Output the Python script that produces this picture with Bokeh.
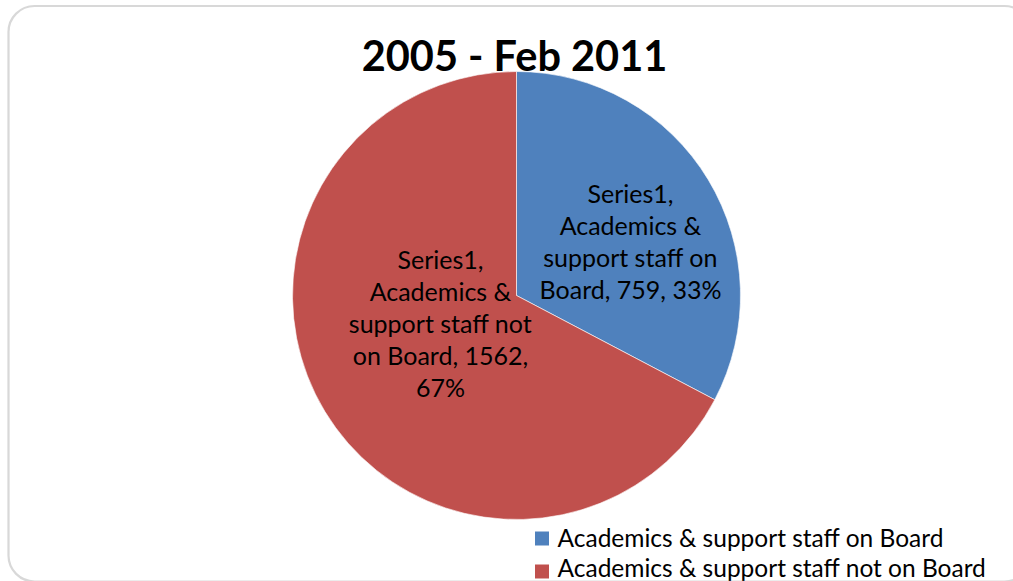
import math
import textwrap
from bokeh.plotting import figure
from bokeh.models import Range1d, ColumnDataSource, BoxAnnotation
from bokeh.core.properties import value
from bokeh.embed import file_html
from bokeh.resources import INLINE

# ---- data ----
title = "2005 - Feb 2011"
series_name = "Series1"
categories = ["Academics & support staff on Board", "Academics & support staff not on Board"]
values = [759, 1562]
colors = ["#4F81BD", "#C0504D"]

FONT = "Lato"

# ---- layout (screen px) ----
W, H = 1013, 581
X0, Y0 = 0, 0


def sy(y):
    return (Y0 + H) - y  # screen y -> data y


p = figure(width=W, height=H, output_backend="svg", toolbar_location=None,
           x_range=Range1d(X0, X0 + W), y_range=Range1d(0, H),
           min_border=0, outline_line_color=None)
p.axis.visible = False
p.grid.visible = False
p.background_fill_color = "white"
p.border_fill_color = "white"

# rounded chart border
p.add_layout(BoxAnnotation(left=8, right=1030, top=sy(5.5), bottom=sy(581),
                           border_radius=26, fill_alpha=0,
                           line_color="#7F7F7F", line_width=2.2))

# pie
total = sum(values)
fracs = [v / total for v in values]
starts, ends = [], []
a = math.pi / 2
for f in fracs:
    starts.append(a)
    a -= 2 * math.pi * f
    ends.append(a)
src = ColumnDataSource(dict(start=starts, end=ends, color=colors))
cx, cy, r = 516, 295, 224
p.wedge(x=cx, y=sy(cy), radius=r, radius_units="screen",
        start_angle="start", end_angle="end", direction="clock",
        fill_color="color", line_color="white", line_width=1, line_alpha=0.6,
        source=src)

# data labels
label_pos = [(630, 192), (440, 258)]  # center x, first baseline
lx, ly, lt = [], [], []
for i, (cat, v, f) in enumerate(zip(categories, values, fracs)):
    txt = f"{series_name}, {cat}, {v}, {round(f * 100)}%"
    lines = textwrap.wrap(txt, width=17)
    for j, line in enumerate(lines):
        lx.append(label_pos[i][0])
        ly.append(sy(label_pos[i][1] + 32 * j))
        lt.append(line)
p.text(x=lx, y=ly, text=lt, text_font=value(FONT), text_font_size="25px",
       text_color="black", text_align="center", text_baseline="alphabetic")

# title
p.text(x=[514], y=[sy(54)], text=[title], text_font=value(FONT),
       text_font_size="41.5px", text_font_style="bold", text_color="black",
       text_align="center", text_baseline="alphabetic")

# legend
leg_y = [538, 571]
p.rect(x=[541.5] * 2, y=[sy(v) for v in leg_y], width=14, height=14,
       width_units="screen", height_units="screen", fill_color=colors,
       line_color=None)
p.text(x=[557] * 2, y=[sy(537), sy(567)], text=categories, text_font=value(FONT),
       text_font_size="24.5px", text_color="black", text_align="left",
       text_baseline="alphabetic")

open("out.html", "w").write(file_html(p, INLINE))
